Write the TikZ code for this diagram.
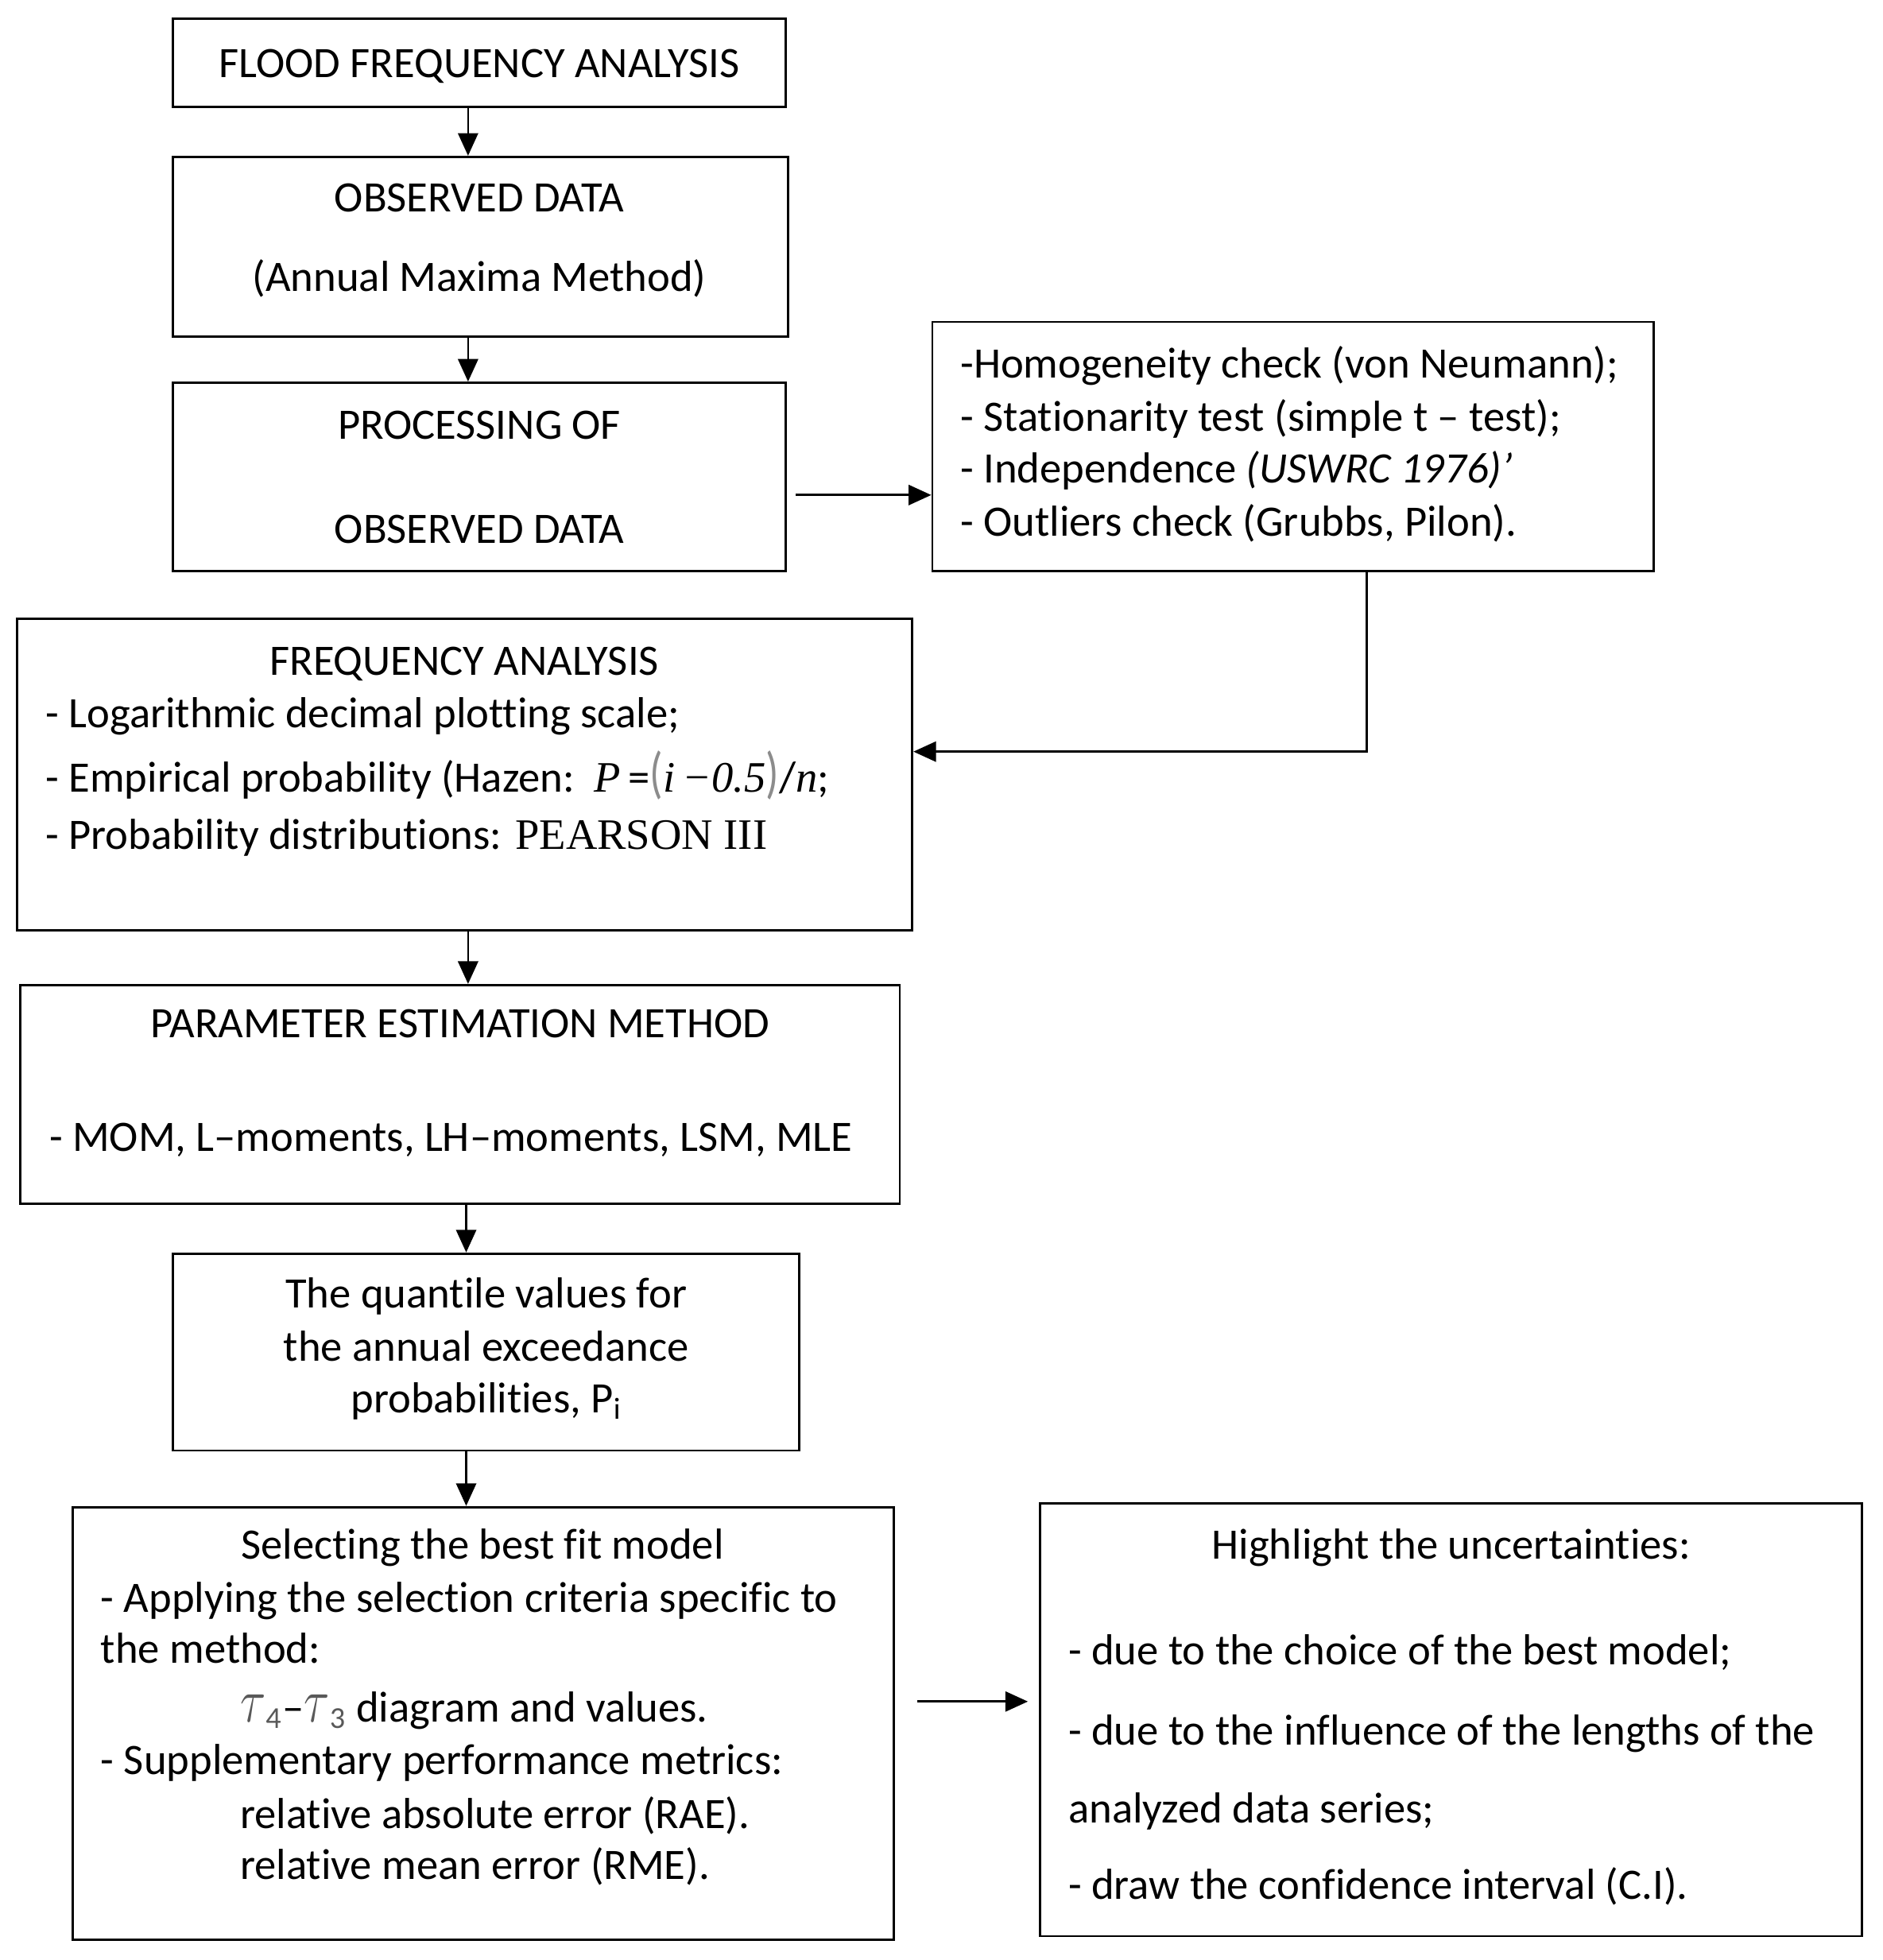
\documentclass[tikz,border=0pt]{standalone}
\usepackage{fontspec}
\setmainfont{Carlito}[Ligatures={NoCommon}]
\newfontfamily\tnrfont{Liberation Serif}
\usetikzlibrary{arrows.meta,fit}
\begin{document}
\begin{tikzpicture}[x=0.5pt,y=-0.5pt,
  box/.style={draw, line width=0.9pt, inner sep=0pt},
  arr/.style={-{Triangle[length=9pt,width=8pt]}, line width=0.85pt},
  txt/.style={inner sep=0pt, yshift=-1.6pt, font=\fontsize{17.3pt}{20pt}\selectfont},
  lt/.style={txt, anchor=mid west},
  ct/.style={txt, anchor=mid}]
\useasboundingbox (0,0) rectangle (1500,1562);
% boxes
\node[box, fit={(138,15)(626,85)}] (b1) {};
\node[box, fit={(138,125)(628,268)}] (b2) {};
\node[box, fit={(138,305)(626,455)}] (b3) {};
\node[box, fit={(743,256.5)(1318,455)}] (b4) {};
\node[box, fit={(13.5,493)(727,741.5)}] (b5) {};
\node[box, fit={(16,785)(717,959.5)}] (b6) {};
\node[box, fit={(138,999)(637,1156)}] (b7) {};
\node[box, fit={(58,1201)(712,1546)}] (b8) {};
\node[box, fit={(829,1198)(1484,1543)}] (b9) {};
% texts
\node[ct] (t1) at (382,53.5) {FLOOD FREQUENCY ANALYSIS};
\node[ct] (t2a) at (382,161) {OBSERVED DATA};
\node[ct] (t2b) at (382,224) {(Annual Maxima Method)};
\node[ct] (t3a) at (382,342) {PROCESSING OF};
\node[ct] (t3b) at (382,425) {OBSERVED DATA};
\node[lt] (t4a) at (765,293) {-Homogeneity check (von Neumann);};
\node[lt] (t4b) at (765,335.5) {- Stationarity test (simple t -- test);};
\node[lt] (t4c) at (765,377) {- Independence \textit{(USWRC 1976)’}};
\node[lt] (t4d) at (765,419) {- Outliers check (Grubbs, Pilon).};
\node[ct] (t5a) at (370,530) {FREQUENCY ANALYSIS};
\node[lt] (t5b) at (36,572) {- Logarithmic decimal plotting scale;};
\node[lt] (t5c) at (36,623.5) {- Empirical probability (Hazen:\ \ {\tnrfont\itshape P}\,=\textcolor{black!45}{\scalebox{1}[1.3]{(}}{\tnrfont\itshape i\,−0.5}\textcolor{black!45}{\scalebox{1}[1.3]{)}}/{\tnrfont\itshape n};};
\node[lt] (t5d) at (36,669) {- Probability distributions: {\tnrfont PEARSON III}};
\node[ct] (t6a) at (366.5,819) {PARAMETER ESTIMATION METHOD};
\node[lt] (t6b) at (39,909.5) {- MOM, L--moments, LH--moments, LSM, MLE};
\node[ct] (t7a) at (387.5,1034.5) {The quantile values for};
\node[ct] (t7b) at (387.5,1076.5) {the annual exceedance};
\node[ct] (t7c) at (387.5,1118) {probabilities, P\textsubscript{i}};
\node[ct] (t8a) at (384.5,1234.5) {Selecting the best fit model};
\node[lt] (t8b) at (80,1277) {- Applying the selection criteria specific to};
\node[lt] (t8c) at (80,1317.5) {the method:};
\node[lt] (t8d) at (191,1364) {\textcolor{black!65}{\scalebox{1.1}[1.45]{$\tau$}\textsubscript{4}}--\textcolor{black!65}{\scalebox{1.1}[1.45]{$\tau$}\textsubscript{3}} diagram and values.};
\node[lt] (t8e) at (80,1406) {- Supplementary performance metrics:};
\node[lt] (t8f) at (191,1449) {relative absolute error (RAE).};
\node[lt] (t8g) at (191,1489.5) {relative mean error (RME).};
\node[ct] (t9a) at (1156.5,1234.5) {Highlight the uncertainties:};
\node[lt] (t9b) at (851,1319) {- due to the choice of the best model;};
\node[lt] (t9c) at (851,1382.5) {- due to the influence of the lengths of the};
\node[lt] (t9d) at (851,1445) {analyzed data series;};
\node[lt] (t9e) at (851,1505.5) {- draw the confidence interval (C.I).};
% connectors
\coordinate (ax) at (373,0);
\coordinate (ax2) at (371.5,0);
\coordinate (a3) at (0,394.5);
\coordinate (a4) at (1089,599);
\coordinate (a8) at (0,1356);
\draw[arr] (b1.south -| ax) -- (b2.north -| ax);
\draw[arr] (b2.south -| ax) -- (b3.north -| ax);
\draw[arr, shorten <=3.5pt] (b3.east |- a3) -- (b4.west |- a3);
\draw[arr] (b4.south -| a4) |- (b5.east |- a4);
\draw[arr] (b5.south -| ax) -- (b6.north -| ax);
\draw[arr] (b6.south -| ax2) -- (b7.north -| ax2);
\draw[arr] (b7.south -| ax2) -- (b8.north -| ax2);
\draw[arr, shorten <=9pt, shorten >=4.5pt] (b8.east |- a8) -- (b9.west |- a8);
\end{tikzpicture}
\end{document}
